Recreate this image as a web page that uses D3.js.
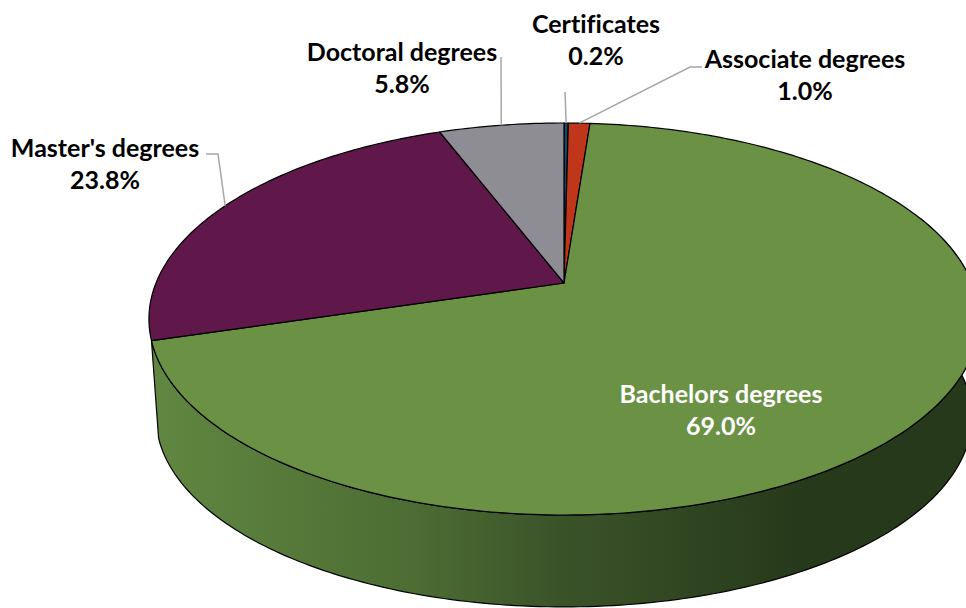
<!DOCTYPE html>
<html>
<head>
<meta charset="utf-8">
<script src="https://cdn.jsdelivr.net/npm/d3@7"></script>
<style>
  html, body { margin: 0; padding: 0; background: #fff; overflow: hidden; }
  svg { display: block; }
  text { font-family: Lato, "Open Sans", sans-serif; font-weight: 700; font-size: 25px; text-anchor: middle; font-variant-ligatures: none; }
</style>
</head>
<body>
<svg id="chart" width="966" height="608"></svg>
<script>
var categories = ['Certificates', 'Associate degrees', 'Bachelors degrees', "Master's degrees", 'Doctoral degrees'];
var values = [0.2, 1.0, 69.0, 23.8, 5.8];
var colors = ['#17456b', '#c0361a', '#6a9144', '#5f1849', '#8e8d93'];

// label centre and connector elbow, by category
var labelX = [596, 805, 721, 105, 402];
var labelY = [33, 68, 403, 157, 61];
var elbows = [[[565, 92]], [[702, 67], [690, 67]], [], [[206, 154], [218, 154]], [[501, 57]]];
var labelFill = ['#000', '#000', '#fff', '#000', '#000'];

var svg = d3.select('#chart');
var tilt = 0.1837; // perspective, back of the disc is smaller

// disc angle -> picture position
var project = function(a, disc) {
  var w = 1 + tilt * Math.cos(a);
  return [disc.x + disc.a * Math.sin(a) / w, disc.y - disc.b * Math.cos(a) / w];
};
var topDisc = {x: 564, y: 283, a: 408, b: 189.4};
var lowDisc = {x: 564, y: 382, a: 401, b: 183.6};

var pie = d3.pie().sort(null).value(function(d) { return d; });
var arcs = pie(values);
var line = d3.line();

var rim = function(a0, a1, disc) {
  var n = Math.max(2, Math.ceil(Math.abs(a1 - a0) * 60));
  return d3.range(n + 1).map(function(i) {
    return project(a0 + (a1 - a0) * i / n, disc);
  });
};

var defs = svg.append('defs');
var grad = defs.append('linearGradient').attr('id', 'wall')
  .attr('gradientUnits', 'userSpaceOnUse')
  .attr('x1', 150).attr('x2', 966).attr('y1', 0).attr('y2', 0);
[[0, '#618741'], [0.33, '#4c6c33'], [0.5, '#3b5329'], [0.68, '#2e4420'], [0.8, '#27391b'], [1, '#27391b']].forEach(function(s) {
  grad.append('stop').attr('offset', s[0]).attr('stop-color', s[1]);
});

// side wall of the big slice, right side runs off the picture
var wallStart = 1.2, wallEnd = arcs[2].endAngle;
var wallPts = rim(wallStart, wallEnd, topDisc).concat(rim(wallEnd, wallStart, lowDisc));
svg.append('path')
  .attr('d', line(wallPts) + 'Z')
  .attr('fill', 'url(#wall)')
  .attr('stroke', '#000')
  .attr('stroke-width', 1.2)
  .attr('stroke-linejoin', 'round');

// top face
svg.selectAll('path.slice')
  .data(arcs)
  .enter().append('path')
  .attr('class', 'slice')
  .attr('d', function(d) {
    return line([[topDisc.x, topDisc.y]].concat(rim(d.startAngle, d.endAngle, topDisc))) + 'Z';
  })
  .attr('fill', function(d, i) { return colors[i]; })
  .attr('stroke', '#000')
  .attr('stroke-width', 1.2)
  .attr('stroke-linejoin', 'round');

// connectors
svg.selectAll('path.leader')
  .data(arcs)
  .enter().append('path')
  .attr('class', 'leader')
  .attr('d', function(d, i) {
    if (!elbows[i].length) return null;
    return line(elbows[i].concat([project((d.startAngle + d.endAngle) / 2, topDisc)]));
  })
  .attr('fill', 'none')
  .attr('stroke', '#a6a6a6')
  .attr('stroke-width', 1.5);

// labels
var labels = svg.selectAll('text.label')
  .data(categories)
  .enter().append('text')
  .attr('class', 'label')
  .attr('fill', function(d, i) { return labelFill[i]; });
labels.append('tspan')
  .attr('x', function(d, i) { return labelX[i]; })
  .attr('y', function(d, i) { return labelY[i]; })
  .text(function(d) { return d; });
labels.append('tspan')
  .attr('x', function(d, i) { return labelX[i]; })
  .attr('y', function(d, i) { return labelY[i] + 32; })
  .text(function(d, i) { return d3.format('.1f')(values[i]) + '%'; });
</script>
</body>
</html>
